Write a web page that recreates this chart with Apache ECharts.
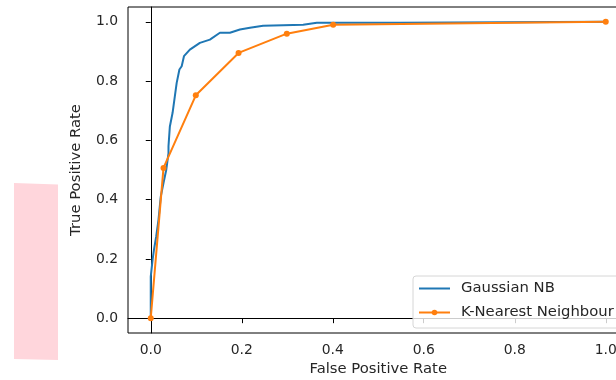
<!DOCTYPE html>
<html>
<head>
<meta charset="utf-8">
<script src="https://cdn.jsdelivr.net/npm/echarts@6/dist/echarts.min.js"></script>
<style>html,body{margin:0;padding:0;background:#fff}#c{width:616px;height:380px}</style>
</head>
<body>
<div id="c"></div>
<script>
const seriesNames = ['Gaussian NB', 'K-Nearest Neighbour'];
const gnbFpr = [0, 0, 0.004, 0.007, 0.012, 0.017, 0.022, 0.028, 0.034, 0.039, 0.039, 0.042, 0.048, 0.053, 0.057, 0.063, 0.068, 0.073, 0.086, 0.108, 0.13, 0.152, 0.174, 0.196, 0.218, 0.247, 0.335, 0.365, 0.548, 0.548, 1.0];
const gnbTpr = [0, 0.14, 0.197, 0.23, 0.276, 0.332, 0.41, 0.456, 0.5, 0.557, 0.58, 0.647, 0.693, 0.749, 0.794, 0.839, 0.85, 0.884, 0.906, 0.929, 0.94, 0.963, 0.963, 0.974, 0.98, 0.987, 0.99, 0.997, 0.997, 1.0, 1.0];
const knnFpr = [0, 0.028, 0.099, 0.193, 0.299, 0.401, 1.0];
const knnTpr = [0, 0.507, 0.752, 0.895, 0.96, 0.99, 1.0];
const tickValues = [0, 0.2, 0.4, 0.6, 0.8, 1.0];
const xTitle = 'False Positive Rate';
const yTitle = 'True Positive Rate';

const font = 'DejaVu Sans';
const chart = echarts.init(document.getElementById('c'), null, {renderer: 'canvas'});
const axisCommon = {
  min: -0.05, max: 1.05,
  nameLocation: 'middle',
  nameTextStyle: {fontFamily: font, fontSize: 14.8, color: '#262626'},
  axisLine: {show: true, lineStyle: {color: '#000', width: 1}},
  axisTick: {show: true, inside: false, length: 5, lineStyle: {color: '#000', width: 1}, customValues: tickValues},
  axisLabel: {fontFamily: font, fontSize: 13.9, color: '#262626', customValues: tickValues, formatter: v => Number(v).toFixed(1)},
  splitLine: {show: false}
};
chart.setOption({
  animation: false,
  backgroundColor: '#fff',
  grid: {left: 128, top: 7, width: 500.5, height: 326, containLabel: false, outerBoundsMode: 'none',
         show: true, borderColor: '#000', borderWidth: 1, backgroundColor: 'transparent'},
  xAxis: Object.assign({}, axisCommon, {type: 'value', name: xTitle, nameGap: 29,
    axisLabel: Object.assign({}, axisCommon.axisLabel, {margin: 10})}),
  yAxis: Object.assign({}, axisCommon, {type: 'value', name: yTitle, nameGap: 44,
    axisLabel: Object.assign({}, axisCommon.axisLabel, {margin: 10})}),
  legend: {
    orient: 'vertical', left: 413, top: 276,
    padding: [5, 10, 8, 5],
    itemWidth: 31, itemHeight: 7, itemGap: 9,
    borderColor: '#d6d6d6', borderWidth: 1, borderRadius: 3,
    backgroundColor: 'rgba(255,255,255,0.8)',
    textStyle: {fontFamily: font, fontSize: 14.8, color: '#262626', padding: [0, 0, 0, 6]},
    data: [
      {name: seriesNames[0], itemStyle: {opacity: 0}},
      {name: seriesNames[1]}
    ]
  },
  graphic: [{
    type: 'polygon', z: -1,
    shape: {points: [[14, 183], [58, 184.5], [58, 360], [14, 359]]},
    style: {fill: '#ffd6dc'}
  }],
  series: [
    {name: seriesNames[0], type: 'line', symbol: 'none', showSymbol: false,
     lineStyle: {color: '#1f77b4', width: 2}, itemStyle: {color: '#1f77b4'},
     data: gnbFpr.map((x, i) => [x, gnbTpr[i]])},
    {name: seriesNames[1], type: 'line', symbol: 'circle', symbolSize: 6, showSymbol: true,
     lineStyle: {color: '#ff7f0e', width: 2}, itemStyle: {color: '#ff7f0e'},
     data: knnFpr.map((x, i) => [x, knnTpr[i]])}
  ]
});
</script>
</body>
</html>
